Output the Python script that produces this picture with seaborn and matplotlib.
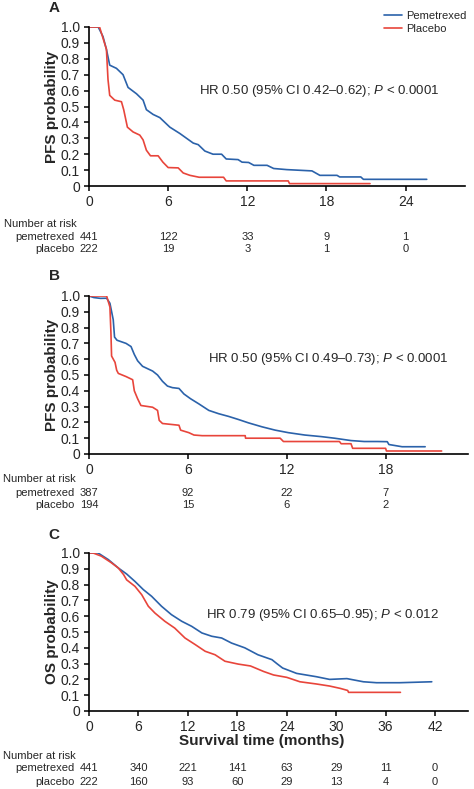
import pandas as pd
import seaborn as sns
import matplotlib.pyplot as plt

sns.set_style('ticks')
plt.rcParams['font.family'] = ['Liberation Sans', 'DejaVu Sans']
plt.rcParams['mathtext.fontset'] = 'custom'
plt.rcParams['mathtext.it'] = 'Liberation Sans:italic'
plt.rcParams['mathtext.rm'] = 'Liberation Sans'

BLUE = '#2b62aa'
RED = '#e8453b'

# Panel A - PFS (all patients)
a_pem_t = [0, 0.7, 1.06, 1.32, 1.57, 2.08, 2.58, 2.96, 3.6, 4.1, 4.35, 4.86, 5.37, 6.13, 6.89, 7.9, 8.28,
           8.78, 9.4, 10.05, 10.4, 11.3, 11.6, 12.1, 12.5, 13.5, 14.0, 15.0, 16.9, 17.5, 18.8, 19.0, 20.6, 20.8, 25.6]
a_pem_p = [1.0, 1.0, 0.94, 0.86, 0.76, 0.74, 0.70, 0.62, 0.58, 0.54, 0.48, 0.45, 0.43, 0.37, 0.33, 0.27, 0.26,
           0.22, 0.20, 0.20, 0.17, 0.166, 0.15, 0.148, 0.13, 0.13, 0.11, 0.103, 0.095, 0.067, 0.067, 0.057, 0.057, 0.042, 0.042]
a_plc_t = [0, 0.8, 1.32, 1.44, 1.57, 1.95, 2.46, 2.63, 2.91, 3.34, 3.85, 4.1, 4.35, 4.66, 5.24, 5.6, 6.0,
           6.76, 7.14, 7.65, 8.35, 10.2, 10.4, 15.1, 15.2, 21.3]
a_plc_p = [1.0, 1.0, 0.86, 0.67, 0.57, 0.54, 0.53, 0.48, 0.37, 0.34, 0.32, 0.29, 0.225, 0.19, 0.19, 0.15, 0.116,
           0.114, 0.082, 0.067, 0.055, 0.055, 0.032, 0.032, 0.015, 0.015]
a_risk_t = [0, 6, 12, 18, 24]
a_risk_pem = [441, 122, 33, 9, 1]
a_risk_plc = [222, 19, 3, 1, 0]

# Panel B - PFS (subgroup)
b_pem_t = [0, 0.3, 0.7, 1.07, 1.27, 1.47, 1.55, 1.7, 2.25, 2.55, 2.75, 2.95, 3.25, 3.86, 4.16, 4.46, 4.76,
           5.06, 5.46, 5.76, 6.16, 6.67, 7.27, 7.87, 8.47, 9.08, 9.68, 10.5, 11.3, 12.1, 13.1, 14.1, 14.9,
           15.9, 16.7, 17.5, 18.1, 18.2, 19.0, 20.4]
b_pem_p = [1.0, 0.99, 0.985, 0.986, 0.954, 0.85, 0.74, 0.72, 0.70, 0.68, 0.63, 0.59, 0.555, 0.525, 0.50, 0.46, 0.43,
           0.42, 0.415, 0.38, 0.35, 0.317, 0.276, 0.255, 0.238, 0.218, 0.197, 0.172, 0.151, 0.135, 0.12, 0.11, 0.10,
           0.085, 0.079, 0.079, 0.078, 0.06, 0.046, 0.046]
b_plc_t = [0, 1.07, 1.27, 1.33, 1.37, 1.58, 1.68, 1.78, 2.25, 2.65, 2.75, 2.95, 3.15, 3.86, 4.16, 4.26, 4.46,
           5.46, 5.56, 6.06, 6.37, 6.87, 9.48, 9.5, 11.6, 11.8, 15.2, 15.3, 15.9, 16.0, 18.0, 18.05, 21.4]
b_plc_p = [1.0, 1.0, 0.93, 0.77, 0.62, 0.58, 0.53, 0.51, 0.49, 0.47, 0.40, 0.35, 0.307, 0.296, 0.276, 0.213, 0.193,
           0.182, 0.151, 0.135, 0.12, 0.116, 0.116, 0.10, 0.10, 0.079, 0.079, 0.065, 0.065, 0.036, 0.036, 0.019, 0.019]
b_risk_t = [0, 6, 12, 18]
b_risk_pem = [387, 92, 22, 7]
b_risk_plc = [194, 15, 6, 2]

# Panel C - OS
c_pem_t = [0, 1.1, 2.35, 3.56, 4.57, 5.58, 6.6, 7.6, 8.8, 10.0, 11.25, 12.46, 13.7, 14.9, 16.1, 17.3, 18.9,
           20.5, 22.2, 22.8, 23.5, 25.2, 27.6, 29.2, 31.3, 33.3, 34.9, 37.7, 41.6]
c_pem_p = [1.0, 1.0, 0.958, 0.905, 0.867, 0.82, 0.768, 0.726, 0.663, 0.61, 0.568, 0.536, 0.494, 0.473, 0.462, 0.43, 0.40,
           0.356, 0.325, 0.30, 0.272, 0.238, 0.217, 0.20, 0.205, 0.185, 0.179, 0.179, 0.185]
c_plc_t = [0, 0.5, 1.5, 2.75, 3.56, 4.2, 4.57, 5.58, 6.4, 7.2, 8.0, 9.2, 10.4, 11.65, 12.9, 14.1, 15.3, 16.5,
           18.1, 19.6, 21.2, 22.4, 24.0, 25.6, 27.6, 29.2, 30.5, 31.4, 31.5, 37.8]
c_plc_p = [1.0, 1.0, 0.98, 0.937, 0.905, 0.863, 0.83, 0.789, 0.736, 0.663, 0.62, 0.568, 0.525, 0.462, 0.42, 0.378,
           0.356, 0.315, 0.297, 0.285, 0.25, 0.228, 0.213, 0.185, 0.171, 0.158, 0.143, 0.13, 0.118, 0.118]
c_risk_t = [0, 6, 12, 18, 24, 30, 36, 42]
c_risk_pem = [441, 340, 221, 141, 63, 29, 11, 0]
c_risk_plc = [222, 160, 93, 60, 29, 13, 4, 0]

yticks = [0, 0.1, 0.2, 0.3, 0.4, 0.5, 0.6, 0.7, 0.8, 0.9, 1.0]
ytick_labels = ['0', '0.1', '0.2', '0.3', '0.4', '0.5', '0.6', '0.7', '0.8', '0.9', '1.0']

W, H = 474, 789
fig = plt.figure(figsize=(W / 100, H / 100), dpi=100)


def px_axes(left, right, top, bottom):
    return fig.add_axes([left / W, 1 - bottom / H, (right - left) / W, (bottom - top) / H])


def km_panel(ax, pem_t, pem_p, plc_t, plc_p, xmax, xticks, ylabel, hr_text, hr_pos,
             risk_t, risk_pem, risk_plc, risk_y, letter, letter_y, legend=False):
    df = pd.concat([
        pd.DataFrame({'t': pem_t, 'p': pem_p, 'arm': 'Pemetrexed'}),
        pd.DataFrame({'t': plc_t, 'p': plc_p, 'arm': 'Placebo'}),
    ])
    sns.lineplot(data=df, x='t', y='p', hue='arm', palette={'Pemetrexed': BLUE, 'Placebo': RED},
                 estimator=None, sort=False, lw=1.2, ax=ax, legend=legend)
    ax.set_xlim(0, xmax)
    ax.set_ylim(0, 1.0)
    ax.set_xticks(xticks)
    ax.set_yticks(yticks)
    ax.set_yticklabels(ytick_labels)
    ax.tick_params(axis='both', labelsize=10, length=3.5, width=1.1, pad=3, color='black')
    for s in ['left', 'bottom']:
        ax.spines[s].set_linewidth(1.2)
        ax.spines[s].set_color('black')
    sns.despine(ax=ax)
    ax.spines['left'].set_bounds(0, 1.0)
    ax.set_ylabel(ylabel, fontsize=11, fontweight='bold')
    ax.yaxis.set_label_coords(-0.08, 0.5)
    ax.set_xlabel('')
    ax.text(hr_pos[0], hr_pos[1], hr_text, transform=ax.transAxes, fontsize=9.5, va='center', ha='left')
    tr = ax.get_xaxis_transform()
    ax.text(-89 / 376 * xmax + 0.2 * xmax / 20, risk_y[0], 'Number at risk', transform=tr, fontsize=8,
            ha='left', va='center', clip_on=False)
    ax.text(-14 / 376 * xmax, risk_y[1], 'pemetrexed', transform=tr, fontsize=8, ha='right', va='center')
    ax.text(-14 / 376 * xmax, risk_y[2], 'placebo', transform=tr, fontsize=8, ha='right', va='center')
    for t, n1, n2 in zip(risk_t, risk_pem, risk_plc):
        ax.text(t, risk_y[1], str(n1), transform=tr, fontsize=8, ha='center', va='center')
        ax.text(t, risk_y[2], str(n2), transform=tr, fontsize=8, ha='center', va='center')
    fig.text(54 / W, 1 - letter_y / H, letter, fontsize=11, fontweight='bold', ha='center', va='center')


ax_a = px_axes(89, 465, 27, 186)
km_panel(ax_a, a_pem_t, a_pem_p, a_plc_t, a_plc_p, 28.5, [0, 6, 12, 18, 24], 'PFS probability',
         r'HR 0.50 (95% CI 0.42–0.62); $\it{P}$ < 0.0001', (0.293, 0.60),
         a_risk_t, a_risk_pem, a_risk_plc, (-0.239, -0.321, -0.396), 'A', 8, legend=True)
leg = ax_a.legend(loc='upper right', bbox_to_anchor=(0.998, 0.995), bbox_transform=fig.transFigure,
                  frameon=False, fontsize=8, handlelength=1.6, handletextpad=0.4, labelspacing=0.3,
                  borderaxespad=0.2)

ax_b = px_axes(89, 468, 296, 454)
km_panel(ax_b, b_pem_t, b_pem_p, b_plc_t, b_plc_p, 23, [0, 6, 12, 18], 'PFS probability',
         r'HR 0.50 (95% CI 0.49–0.73); $\it{P}$ < 0.0001', (0.314, 0.60),
         b_risk_t, b_risk_pem, b_risk_plc, (-0.158, -0.247, -0.323), 'B', 276)

ax_c = px_axes(89, 468, 553, 711)
km_panel(ax_c, c_pem_t, c_pem_p, c_plc_t, c_plc_p, 46, [0, 6, 12, 18, 24, 30, 36, 42], 'OS probability',
         r'HR 0.79 (95% CI 0.65–0.95); $\it{P}$ < 0.012', (0.309, 0.61),
         c_risk_t, c_risk_pem, c_risk_plc, (-0.285, -0.361, -0.449), 'C', 535)
ax_c.set_xlabel('Survival time (months)', fontsize=11, fontweight='bold')
ax_c.xaxis.set_label_coords(0.455, -0.146)
ax_c.xaxis.label.set_va('top')

fig.savefig('out.png', dpi=100)
